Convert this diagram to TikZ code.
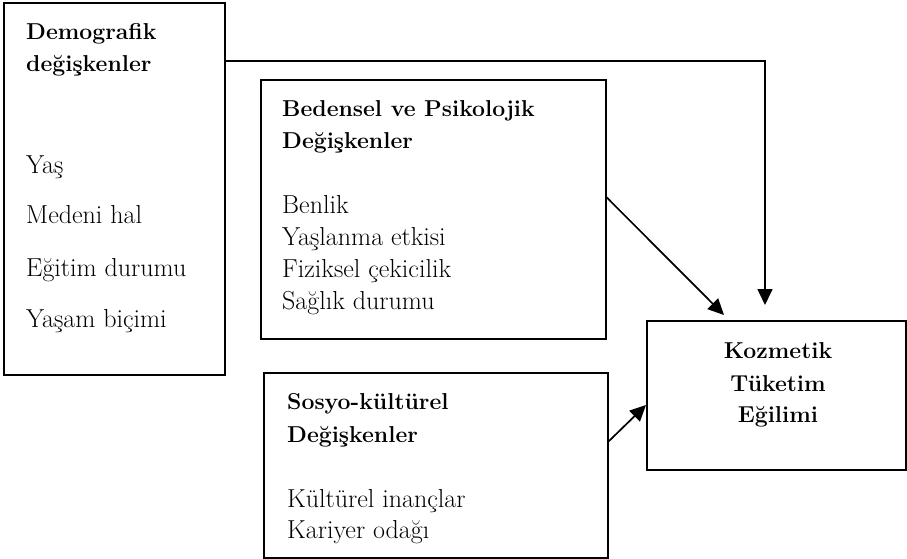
\documentclass[tikz,border=0pt]{standalone}
\usepackage{fontspec}
\usetikzlibrary{arrows.meta,calc}
\begin{document}
\begin{tikzpicture}[x=1pt,y=-1pt,
  box/.style={draw=black,line width=1.3pt,rectangle,inner sep=0pt,fill=none},
  txt/.style={anchor=base west,inner sep=0pt,font=\fontsize{26}{30}\selectfont},
  btxt/.style={anchor=base west,inner sep=0pt,font=\fontsize{23}{27}\selectfont\bfseries},
  ctxt/.style={anchor=base,inner sep=0pt,font=\fontsize{23}{27}\selectfont\bfseries},
  conn/.style={draw=black,line width=1.7pt,-{Triangle[length=16pt,width=15pt]}}]
\useasboundingbox (0,0) rectangle (907,559);
% boxes
\node[box,minimum width=221pt,minimum height=372pt] (dem) at (114.5,189) {};
\node[box,minimum width=345pt,minimum height=259pt] (bed) at (433.5,209.5) {};
\node[box,minimum width=344pt,minimum height=185pt] (soc) at (436,465.5) {};
\node[box,minimum width=259pt,minimum height=149pt] (koz) at (776.5,395.5) {};
% texts
\node[btxt] (d1) at (26,40) {Demografik};
\node[btxt] (d2) at (26,72) {değişkenler};
\node[txt] (d3) at (26,173) {Yaş};
\node[txt] (d4) at (26,223) {Medeni hal};
\node[txt] (d5) at (26,276) {Eğitim durumu};
\node[txt] (d6) at (26,327) {Yaşam biçimi};
\node[btxt] (b1) at (282,117) {Bedensel ve Psikolojik};
\node[btxt] (b2) at (282,148) {Değişkenler};
\node[txt] (b3) at (282,213) {Benlik};
\node[txt] (b4) at (282,245) {Yaşlanma etkisi};
\node[txt] (b5) at (282,277) {Fiziksel çekicilik};
\node[txt] (b6) at (282,309) {Sağlık durumu};
\node[btxt] (s1) at (287,409) {Sosyo-kültürel};
\node[btxt] (s2) at (287,442) {Değişkenler};
\node[txt] (s3) at (287,507) {Kültürel inançlar};
\node[txt] (s4) at (287,538) {Kariyer odağı};
\node[ctxt] (k1) at (778,358) {Kozmetik};
\node[ctxt] (k2) at (778,391) {Tüketim};
\node[ctxt] (k3) at (778,422) {Eğilimi};
% arrow tips
\coordinate (t1) at (765,305);
\coordinate (t2) at (724,315);
\coordinate (t3) at (646,405);
% connectors
\draw[conn] ([yshift=-59pt]dem.north east) -| (t1);
\draw[conn] ([yshift=-118pt]bed.north east) -- (t2);
\draw[conn] ([yshift=-69pt]soc.north east) -- (t3);
\end{tikzpicture}
\end{document}
